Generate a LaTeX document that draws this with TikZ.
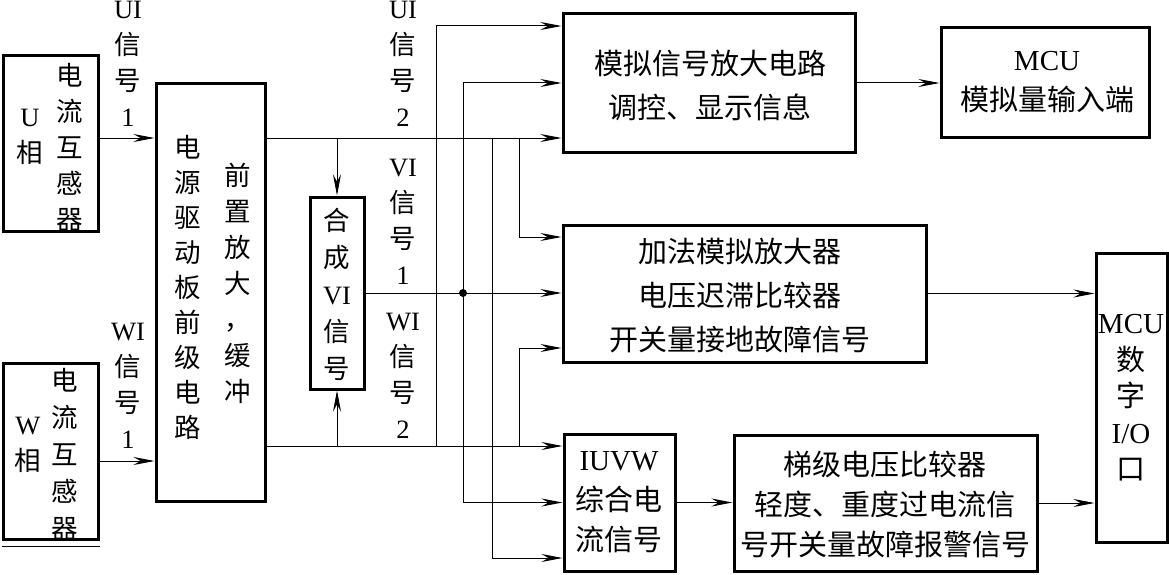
\documentclass[tikz,border=0pt]{standalone}
\usepackage{fontspec}
\setmainfont{Liberation Serif}
\newfontfamily\cjk{Noto Sans CJK SC}
\usetikzlibrary{arrows.meta}
\newcommand\zh[1]{{\cjk #1}}
\begin{document}
\begin{tikzpicture}[x=1pt,y=-1pt,
  box/.style={draw, line width=3pt, rectangle, inner sep=0pt},
  conn/.style={line width=1pt},
  arr/.style={conn, -{Stealth[length=21pt,width=8pt,inset=7pt]}},
  vtext/.style={align=center, inner sep=0pt, font=\fontsize{26.5}{36}\selectfont},
  btext/.style={align=center, inner sep=0pt, font=\fontsize{29}{44}\selectfont},
]
\useasboundingbox (0,0) rectangle (1169,575);

% boxes
\node[box, minimum width=95pt,  minimum height=175pt] (uct)  at (50.5,143.5) {};
\node[box, minimum width=95pt,  minimum height=176pt] (wct)  at (50.5,451) {};
\node[box, minimum width=109pt, minimum height=417pt] (drv)  at (210.5,292.5) {};
\node[box, minimum width=54pt,  minimum height=192pt] (hc)   at (337,293) {};
\node[box, minimum width=292pt, minimum height=138pt] (amp)  at (709,83) {};
\node[box, minimum width=208pt, minimum height=109pt] (mcua) at (1045,82.5) {};
\node[box, minimum width=363pt, minimum height=137pt] (add)  at (744.5,293.5) {};
\node[box, minimum width=71pt,  minimum height=289pt] (mcud) at (1131.5,397.5) {};
\node[box, minimum width=111pt, minimum height=137pt] (iuvw) at (619.5,502.5) {};
\node[box, minimum width=303pt, minimum height=136pt] (stepbox) at (885.5,503) {};
\draw[line width=1.5pt] ([yshift=-6pt]wct.south west) -- ([yshift=-6pt]wct.south east);

% texts in boxes
\node[vtext] (tU)  at (30,137) {U\\\zh{相}};
\node[vtext] (tUc) at (70,147) {\zh{电}\\\zh{流}\\\zh{互}\\\zh{感}\\\zh{器}};
\node[vtext] (tW)  at (28,445) {W\\\zh{相}};
\node[vtext, font=\fontsize{26.5}{37}\selectfont] (tWc) at (65,454) {\zh{电}\\\zh{流}\\\zh{互}\\\zh{感}\\\zh{器}};
\node[vtext, font=\fontsize{26.5}{35}\selectfont] (tD1) at (188,287) {\zh{电}\\\zh{源}\\\zh{驱}\\\zh{动}\\\zh{板}\\\zh{前}\\\zh{级}\\\zh{电}\\\zh{路}};
\node[vtext] (tD2) at (238,283) {\zh{前}\\\zh{置}\\\zh{放}\\\zh{大}\\\zh{，}\\\zh{缓}\\\zh{冲}};
\node[vtext, font=\fontsize{26.5}{37}\selectfont] (tHC) at (337,294) {\zh{合}\\\zh{成}\\VI\\\zh{信}\\\zh{号}};
\node[btext] (tAmp) at (710,85) {\zh{模拟信号放大电路}\\\zh{调控、显示信息}};
\node[btext, font=\fontsize{29}{40}\selectfont] (tMA) at (1047,82) {MCU\\\zh{模拟量输入端}};
\node[btext] (tAdd) at (740,296) {\zh{加法模拟放大器}\\\zh{电压迟滞比较器}\\\zh{开关量接地故障信号}};
\node[vtext, font=\fontsize{29}{36.5}\selectfont] (tMD) at (1131,398) {MCU\\\zh{数}\\\zh{字}\\I/O\\\zh{口}};
\node[btext, font=\fontsize{29}{40}\selectfont] (tIU) at (619,502) {IUVW\\\zh{综合电}\\\zh{流信号}};
\node[btext, font=\fontsize{29}{40}\selectfont] (tSt) at (885,504) {\zh{梯级电压比较器}\\\zh{轻度、重度过电流信}\\\zh{号开关量故障报警信号}};

% signal labels
\node[vtext] (lU1) at (128,64)  {UI\\\zh{信}\\\zh{号}\\1};
\node[vtext] (lW1) at (128,386) {WI\\\zh{信}\\\zh{号}\\1};
\node[vtext] (lU2) at (403,64)  {UI\\\zh{信}\\\zh{号}\\2};
\node[vtext] (lV1) at (403,222) {VI\\\zh{信}\\\zh{号}\\1};
\node[vtext] (lW2) at (403,376) {WI\\\zh{信}\\\zh{号}\\2};

% junction coordinates
\coordinate (jW1) at (436,446);
\coordinate (jW2) at (519,446);
\coordinate (jU1) at (492,138);
\coordinate (jU2) at (519,138);
\coordinate (dot) at (463,293);

% connectors
\draw[arr] (uct.east |- 0,138) -- (drv.west |- 0,138);
\draw[arr] (wct.east |- 0,461) -- (drv.west |- 0,461);
\draw[arr] (drv.east |- 0,138) -- (amp.west |- 0,138);
\draw[arr] (drv.east |- 0,446) -- (iuvw.west |- 0,446);
\draw[arr] (hc.north |- 0,138) -- (hc.north);
\draw[arr] (hc.south |- 0,446) -- (hc.south);
\draw[arr] (hc.east) -- (add.west |- hc.east);
\draw[arr] (jW1) |- (amp.west |- 0,26);
\draw[arr] (dot) |- (amp.west |- 0,83);
\draw[arr] (dot) |- (iuvw.west);
\draw[arr] (jU1) |- (iuvw.west |- 0,558);
\draw[arr] (jU2) |- (add.west |- 0,237);
\draw[arr] (jW2) |- (add.west |- 0,348);
\draw[arr] (amp.east) -- (mcua.west |- amp.east);
\draw[arr] (add.east) -- (mcud.west |- add.east);
\draw[arr] (iuvw.east) -- (stepbox.west |- iuvw.east);
\draw[arr] (stepbox.east) -- (mcud.west |- stepbox.east);
\fill (dot) circle (4pt);
\end{tikzpicture}
\end{document}
